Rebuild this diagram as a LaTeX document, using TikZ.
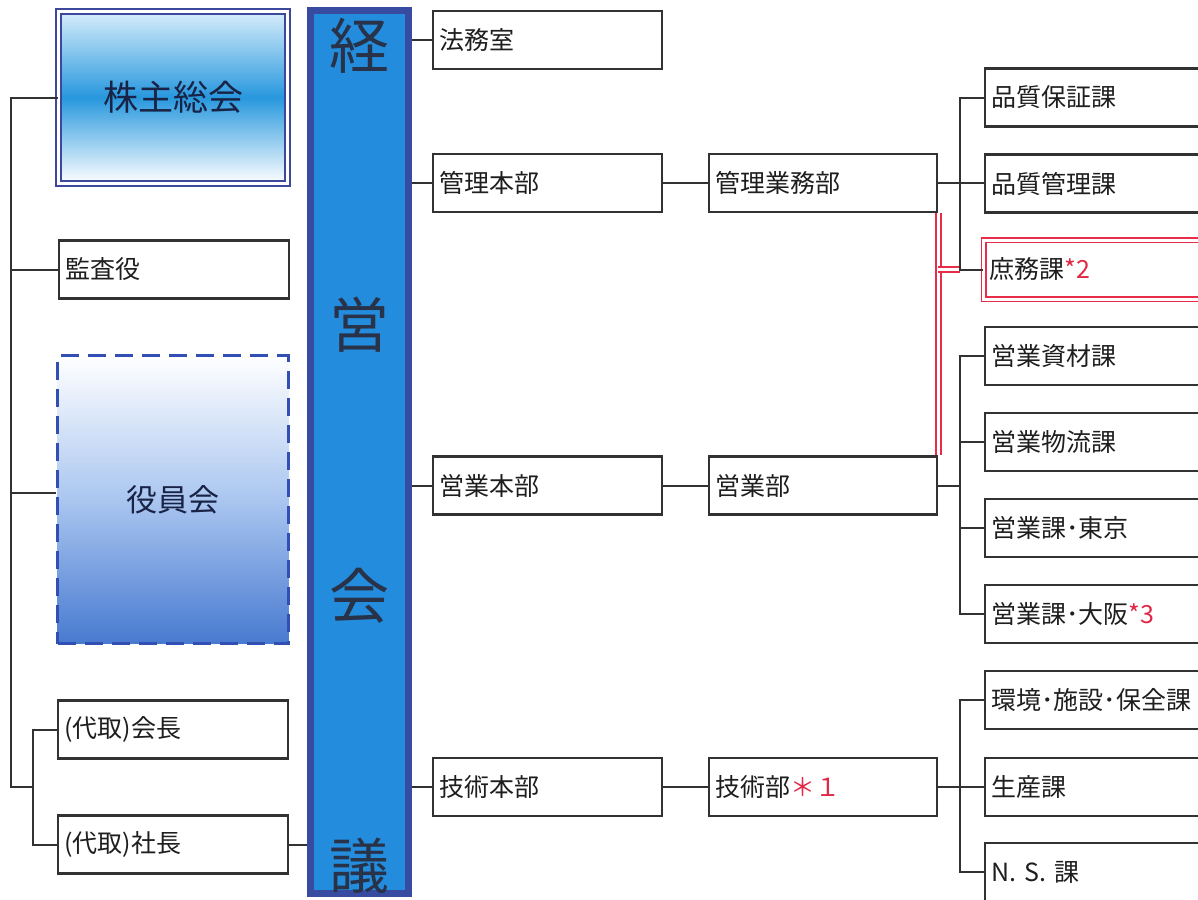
\documentclass[tikz,border=0pt]{standalone}
\usepackage{fontspec}
\setmainfont{Noto Sans CJK JP}
\usetikzlibrary{backgrounds}
\definecolor{boxline}{RGB}{50,50,50}
\definecolor{txt}{RGB}{30,30,30}
\definecolor{navyb}{RGB}{60,72,155}
\definecolor{dashb}{RGB}{50,80,180}
\definecolor{barb}{RGB}{55,75,160}
\definecolor{barfill}{RGB}{36,140,220}
\definecolor{redb}{RGB}{232,45,75}
\definecolor{redt}{RGB}{225,40,70}
\definecolor{kabutxt}{RGB}{25,35,70}
\definecolor{kabumid}{RGB}{40,152,222}
\definecolor{kabutop}{RGB}{215,238,251}
\definecolor{yakmid}{RGB}{170,198,240}
\definecolor{yakbot}{RGB}{72,122,208}
\definecolor{bartxt}{RGB}{40,50,72}
\begin{document}
\begin{tikzpicture}[x=1pt,y=-1pt,
  box/.style={draw=boxline, line width=2.2pt, fill=white, minimum height=58pt,
    inner xsep=6pt, inner ysep=0pt, anchor=west, align=left,
    font=\fontsize{25}{28}\selectfont, text=txt},
  lbox/.style={box, text width=218pt},
  mbox/.style={box, text width=217pt},
  rbox/.style={box, text width=260pt},
  conn/.style={draw=boxline, line width=2pt},
  redline/.style={draw=redb, line width=1.8pt, double=white, double distance=3.2pt},
  barch/.style={font=\fontsize{60}{62}\selectfont, text=bartxt, inner sep=0pt}
]
\useasboundingbox (0,0) rectangle (1198,899);
\clip (0,0) rectangle (1198,899);

% left column
\node[draw=navyb, line width=2pt, double=white, double distance=3pt,
  top color=kabutop, bottom color=white, middle color=kabumid,
  minimum width=229pt, minimum height=172pt, inner sep=0pt,
  font=\fontsize{35}{40}\selectfont, text=kabutxt] (kabu) at (173,97.5) {株主総会};
\node[lbox] (kansa) at (58,269.5) {監査役};
\node[draw=dashb, line width=3pt, dash pattern=on 18pt off 9pt,
  top color=white, bottom color=yakbot, middle color=yakmid,
  minimum width=231pt, minimum height=288pt, inner sep=0pt,
  font=\fontsize{31}{36}\selectfont, text=kabutxt] (yakuin) at (173,499.5) {役員会};
\node[lbox] (kaicho) at (57,729.5) {(代取)会長};
\node[lbox] (shacho) at (57,844.5) {(代取)社長};

% central bar
\node[draw=barb, line width=7pt, fill=barfill, minimum width=98pt,
  minimum height=883pt, inner sep=0pt] (bar) at (359.5,452) {};
\node[barch] (c1) at (359.5,46) {経};
\node[barch] (c2) at (359.5,325) {営};
\node[barch] (c3) at (359.5,596) {会};
\node[barch] (c4) at (359.5,866) {議};

% middle columns
\node[mbox] (homu) at (432,40) {法務室};
\node[mbox] (kanri) at (432,183) {管理本部};
\node[mbox] (eigyohon) at (432,485.5) {営業本部};
\node[mbox] (gijutsuhon) at (432,787) {技術本部};
\node[box, text width=216pt] (kgyomu) at (708,183) {管理業務部};
\node[box, text width=216pt] (eigyo) at (708,485.5) {営業部};
\node[box, text width=216pt] (gijutsu) at (708,787) {技術部{\color{redt}＊１}};

% right column
\node[rbox] (hinsho) at (984,97.5) {品質保証課};
\node[rbox] (hinkan) at (984,183.5) {品質管理課};
\node[rbox, draw=redb, line width=1.6pt, double=white, double distance=3pt,
  minimum height=59pt] (shomu) at (983,269.5) {庶務課{\color{redt}*2}};
\node[rbox] (shizai) at (984,356) {営業資材課};
\node[rbox] (butsuryu) at (984,442) {営業物流課};
\node[rbox] (tokyo) at (984,528) {営業課･東京};
\node[rbox] (osaka) at (984,614) {営業課･大阪{\color{redt}*3}};
\node[rbox] (kankyo) at (984,700) {環境･施設･保全課};
\node[rbox] (seisan) at (984,787) {生産課};
\node[rbox] (ns) at (984,872) {N. S. 課};

\coordinate (tb) at (11,787);
\coordinate (sb) at (33,787);
\coordinate (v) at (960,0);

% red double connector (behind the boxes)
\begin{scope}[on background layer]
\draw[redline] (kgyomu.south east) -- (eigyo.north east);
\draw[redline] (kgyomu.south east |- shomu.west) -- (v |- shomu.west);
\end{scope}

% left connectors
\draw[conn] (kabu.west) -| (tb) -- (sb);
\draw[conn] (kansa.west) -- (kansa.west -| tb);
\draw[conn] ([yshift=7pt]yakuin.west) -- ([yshift=7pt]yakuin.west -| tb);
\draw[conn] (kaicho.west) -| (sb) |- (shacho.west);
\draw[conn] (shacho.east) -- (shacho.east -| bar.west);

% bar to middle
\draw[conn] (bar.east |- homu.west) -- (homu.west);
\draw[conn] (bar.east |- kanri.west) -- (kanri.west);
\draw[conn] (bar.east |- eigyohon.west) -- (eigyohon.west);
\draw[conn] (bar.east |- gijutsuhon.west) -- (gijutsuhon.west);
\draw[conn] (kanri) -- (kgyomu);
\draw[conn] (eigyohon) -- (eigyo);
\draw[conn] (gijutsuhon) -- (gijutsu);

% right connectors
\draw[conn] (kgyomu.east) -- (kgyomu.east -| hinkan.west);
\draw[conn] (hinsho.west) -| (v |- shomu.west) -- (shomu.west);
\draw[conn] (eigyo.east) -- (eigyo.east -| v);
\draw[conn] (shizai.west) -| (v |- osaka.west) -- (osaka.west);
\draw[conn] (butsuryu.west) -- (butsuryu.west -| v);
\draw[conn] (tokyo.west) -- (tokyo.west -| v);
\draw[conn] (gijutsu.east) -- (gijutsu.east -| seisan.west);
\draw[conn] (kankyo.west) -| (v |- ns.west) -- (ns.west);
\end{tikzpicture}
\end{document}
